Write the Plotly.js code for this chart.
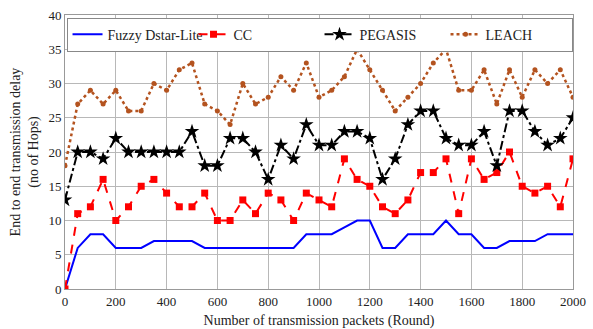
<!DOCTYPE html>
<html>
<head>
<meta charset="utf-8">
<script src="https://cdn.plot.ly/plotly-3.0.1.min.js"></script>
<style>html,body{margin:0;padding:0;background:#fff;}#chart{width:593px;height:329px;}</style>
</head>
<body>
<div id="chart"></div>
<script>
const rounds = [0,50,100,150,200,250,300,350,400,450,500,550,600,650,700,750,800,850,900,950,1000,1050,1100,1150,1200,1250,1300,1350,1400,1450,1500,1550,1600,1650,1700,1750,1800,1850,1900,1950,2000];
const fuzzyDstarLite = [0,6,8,8,6,6,6,7,7,7,7,6,6,6,6,6,6,6,6,8,8,8,9,10,10,6,6,8,8,8,10,8,8,6,6,7,7,7,8,8,8];
const cc = [0,11,12,16,10,12,15,16,14,12,12,14,10,10,13,11,14,13,10,14,13,12,19,16,15,12,11,13,17,17,19,11,19,16,17,20,15,14,15,12,19];
const pegasis = [13,20,20,19,22,20,20,20,20,20,23,18,18,22,22,20,16,21,19,24,21,21,23,23,22,16,19,24,26,26,22,21,21,23,18,26,26,23,21,22,25];
const leach = [18,27,29,27,29,26,26,30,29,32,33,27,26,24,30,27,28,31,29,33,28,29,31,35,32,29,26,28,30,33,35,29,29,32,27,32,28,32,30,32,28];
const seriesNames = ["Fuzzy Dstar-Lite","CC","PEGASIS","LEACH"];
const xTicks = [0,200,400,600,800,1000,1200,1400,1600,1800,2000];
const yTicks = [0,5,10,15,20,25,30,35,40];

const serif = "Liberation Serif, Times New Roman, serif";
const traces = [
  {x: rounds, y: fuzzyDstarLite, name: seriesNames[0], mode: "lines",
   line: {color: "#0000FF", width: 2}},
  {x: rounds, y: cc, name: seriesNames[1], mode: "lines+markers",
   line: {color: "#FF0000", width: 2, dash: "dash"},
   marker: {symbol: "square", size: 7, color: "#FF0000"}},
  {x: rounds, y: pegasis, name: seriesNames[2], mode: "lines+markers",
   line: {color: "#000000", width: 2, dash: "dashdot"},
   marker: {symbol: "star", size: 11, color: "#000000"}},
  {x: rounds, y: leach, name: seriesNames[3], mode: "lines+markers",
   line: {color: "#B4531F", width: 2.5, dash: "dot"},
   marker: {symbol: "circle", size: 5, color: "#B4531F"}}
];
const layout = {
  width: 593, height: 329,
  margin: {l: 65, r: 20, t: 15, b: 40},
  paper_bgcolor: "#fff", plot_bgcolor: "#fff",
  font: {family: serif, size: 13, color: "#222"},
  showlegend: true,
  legend: {orientation: "h", x: 0.003, xanchor: "left", y: 0.99, yanchor: "top",
    bgcolor: "#fff", bordercolor: "#888", borderwidth: 1,
    entrywidth: 81, entrywidthmode: "pixels", itemwidth: 30,
    font: {family: serif, size: 14, color: "#222"},
    tracegroupgap: 0},
  xaxis: {range: [0, 2000], tickvals: xTicks, ticktext: xTicks.map(String),
    showgrid: true, gridcolor: "#b8b8b8", gridwidth: 1,
    showline: true, linecolor: "#999", mirror: true, zeroline: false,
    ticks: "", tickfont: {family: serif, size: 13},
    title: {text: "Number of transmission packets (Round)", font: {family: serif, size: 14}, standoff: 8}},
  yaxis: {range: [0, 40], tickvals: yTicks, ticktext: yTicks.map(String),
    showgrid: true, gridcolor: "#b8b8b8", gridwidth: 1,
    showline: true, linecolor: "#999", mirror: true, zeroline: false,
    ticks: "", tickfont: {family: serif, size: 13},
    title: {text: "End to end transmission delay<br>(no of Hops)", font: {family: serif, size: 14}, standoff: 6}}
};
Plotly.newPlot("chart", traces, layout, {displayModeBar: false, staticPlot: true});
</script>
</body>
</html>
